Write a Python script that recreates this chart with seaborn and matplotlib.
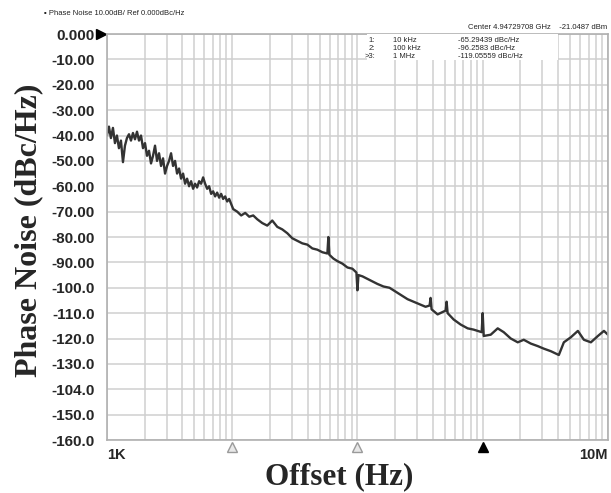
import numpy as np
import pandas as pd
import seaborn as sns
import matplotlib.pyplot as plt
from matplotlib.ticker import LogLocator, NullFormatter
import matplotlib.transforms as mtransforms

offset_khz = [
    1.000, 1.038, 1.076, 1.117, 1.159, 1.202, 1.247, 1.294, 1.343, 1.393,
    1.445, 1.500, 1.556, 1.614, 1.675, 1.738, 1.803, 1.871, 1.941, 2.014,
    2.089, 2.168, 2.249, 2.333, 2.421, 2.512, 2.606, 2.704, 2.805, 2.911,
    3.020, 3.133, 3.251, 3.373, 3.499, 3.631, 3.767, 3.908, 4.055, 4.207,
    4.365, 4.529, 4.699, 4.875, 5.058, 5.248, 5.445, 5.649, 5.861, 6.081,
    6.310, 6.546, 6.792, 7.047, 7.311, 7.586, 7.870, 8.166, 8.472, 8.790,
    9.120, 9.462, 9.817, 10.19, 10.96, 11.80, 12.71, 13.68, 14.72, 15.85,
    17.38, 19.05, 20.89, 22.91, 25.12, 27.54, 30.20, 33.11, 36.31, 39.81,
    43.65, 47.86, 52.48, 57.54, 58.61, 59.70, 64.27, 69.18, 75.86, 83.18,
    91.20, 98.17, 100.0, 101.9, 109.6, 120.2, 131.8, 144.5, 161.4, 180.3,
    201.4, 224.9, 251.2, 280.5, 313.3, 349.9, 376.7, 383.7, 390.8, 436.5,
    505.8, 515.2, 524.8, 586.1, 666.8, 758.6, 847.2, 981.7, 1000.0, 1019.0,
    1159.0, 1318.0, 1472.0, 1675.0, 1905.0, 2128.0, 2421.0, 2754.0, 3076.0, 3499.0,
    4055.0, 4446.0, 5058.0, 5754.0, 6427.0, 7311.0, 8318.0, 9290.0, 10000.0,
]
noise_dbc = [
    -40, -36.5, -41, -37, -43, -40, -45, -42, -50.5, -44,
    -41, -39.5, -42, -39, -41.5, -38.5, -42, -40, -45, -43,
    -48, -46, -51, -48, -44, -50, -47, -52, -49, -55,
    -52, -50, -47, -52, -50, -55, -53, -57, -55, -59,
    -57, -60, -58, -61, -59, -60.5, -58, -59, -56.5, -59,
    -61, -60, -63, -62, -64, -62.5, -64.5, -63, -65, -64,
    -66, -65, -67, -69, -70, -71.5, -70.5, -72, -71.5, -73,
    -74.5, -75.5, -73.5, -76, -77, -78.5, -80.5, -81.5, -82.5, -83,
    -84.5, -85, -86, -86.5, -80, -87, -88.5, -89.5, -90.5, -92,
    -92.5, -94, -101, -95, -95.5, -96.5, -97.5, -98.5, -99.5, -100,
    -101.5, -103, -104.5, -105.5, -106.5, -107.5, -107, -104, -108.5, -110.5,
    -109, -105.5, -110, -112.5, -114.5, -116, -116.5, -117.5, -110, -119,
    -118.5, -116, -117.5, -120, -121.5, -120.5, -122, -123, -124, -125,
    -126.5, -121.5, -119.5, -117, -120.5, -121.5, -119, -117, -118.5,
]

y_ticks = list(range(0, -170, -10))
y_labels = ["0.000", "-10.00", "-20.00", "-30.00", "-40.00", "-50.00", "-60.00",
            "-70.00", "-80.00", "-90.00", "-100.0", "-110.0", "-120.0", "-130.0",
            "-104.0", "-150.0", "-160.0"]
x_decades = [1e3, 1e4, 1e5, 1e6, 1e7]
x_labels = ["1K", "", "", "", "10M"]

marker_freqs = [1e4, 1e5, 1e6]
marker_rows = [("1:", "10 kHz", "-65.29439 dBc/Hz"),
               ("2:", "100 kHz", "-96.2583 dBc/Hz"),
               (">3:", "1 MHz", "-119.05559 dBc/Hz")]
ref_level = 0.0

df = pd.DataFrame({"offset": np.array(offset_khz) * 1e3, "noise": noise_dbc})

sns.set_style("white")
fig = plt.figure(figsize=(6.11, 4.93), dpi=100)
ax = fig.add_axes([0.175, 0.1075, 0.82, 0.8235])

sns.lineplot(data=df, x="offset", y="noise", ax=ax, color="#333333",
             linewidth=1.7, estimator=None, sort=False)

ax.set_xscale("log")
ax.set_xlim(1e3, 1e7)
ax.set_ylim(-160, 0)

ax.set_xticks(x_decades)
ax.set_xticklabels(x_labels)
ax.xaxis.set_minor_locator(LogLocator(base=10, subs=np.arange(2, 10)))
ax.xaxis.set_minor_formatter(NullFormatter())
ax.set_yticks(y_ticks)
ax.set_yticklabels(y_labels)

for lab in ax.get_xticklabels():
    lab.set_fontweight("bold")
    lab.set_fontsize(10.5)
    lab.set_family("Liberation Sans")
ax.get_xticklabels()[0].set_ha("left")
ax.get_xticklabels()[-1].set_ha("right")
for lab in ax.get_yticklabels():
    lab.set_fontweight("bold")
    lab.set_fontsize(11)
    lab.set_family("Liberation Sans")

ax.tick_params(axis="both", which="both", length=0)
ax.tick_params(axis="y", pad=9)
ax.tick_params(axis="x", pad=6)

ax.grid(True, which="major", color="#cfcfcf", linewidth=1.1)
ax.grid(True, which="minor", axis="x", color="#cfcfcf", linewidth=1.1)
for s in ax.spines.values():
    s.set_color("#b0b0b0")
    s.set_linewidth(1.2)

ax.set_xlabel("Offset (Hz)", family="Liberation Serif", fontweight="bold",
              fontsize=22.5)
ax.xaxis.set_label_coords(0.463, -0.055)
ax.set_ylabel("Phase Noise (dBc/Hz)", family="Liberation Serif", fontweight="bold",
              fontsize=23)
ax.yaxis.set_label_coords(-0.127, 0.517)

# marker triangles under the frequency axis
tr = mtransforms.blended_transform_factory(ax.transData, ax.transAxes)
for i, f in enumerate(marker_freqs):
    filled = i == len(marker_freqs) - 1
    ax.plot([f], [-0.018], marker="^", markersize=7, transform=tr, clip_on=False,
            markerfacecolor="black" if filled else "#e8e8e8",
            markeredgecolor="black" if filled else "#9a9a9a", linestyle="none")

# reference level arrow
tr2 = mtransforms.blended_transform_factory(ax.transAxes, ax.transData)
ax.plot([-0.012], [ref_level], marker=">", markersize=7, color="black",
        transform=tr2, clip_on=False, linestyle="none")

# header texts
fig.text(0.072, 0.972, "\u25aa Phase Noise 10.00dB/ Ref 0.000dBc/Hz", fontsize=5.5,
         family="Liberation Sans", color="#222222", va="center")
fig.text(0.994, 0.945, "Center 4.94729708 GHz    -21.0487 dBm", fontsize=5.5,
         family="Liberation Sans", color="#222222", va="center", ha="right")

# marker table
ax.add_patch(plt.Rectangle((0.52, 0.935), 0.38, 0.065, transform=ax.transAxes,
                           facecolor="white", edgecolor="none", zorder=3))
for r, (num, freq, val) in enumerate(marker_rows):
    yy = 0.985 - r * 0.02
    ax.text(0.535, yy, num, transform=ax.transAxes, fontsize=5.5, va="center",
            ha="right", family="Liberation Sans", zorder=4)
    ax.text(0.57, yy, freq, transform=ax.transAxes, fontsize=5.5, va="center",
            family="Liberation Sans", zorder=4)
    ax.text(0.70, yy, val, transform=ax.transAxes, fontsize=5.5, va="center",
            family="Liberation Sans", zorder=4)

fig.savefig("out.png", dpi=100)
